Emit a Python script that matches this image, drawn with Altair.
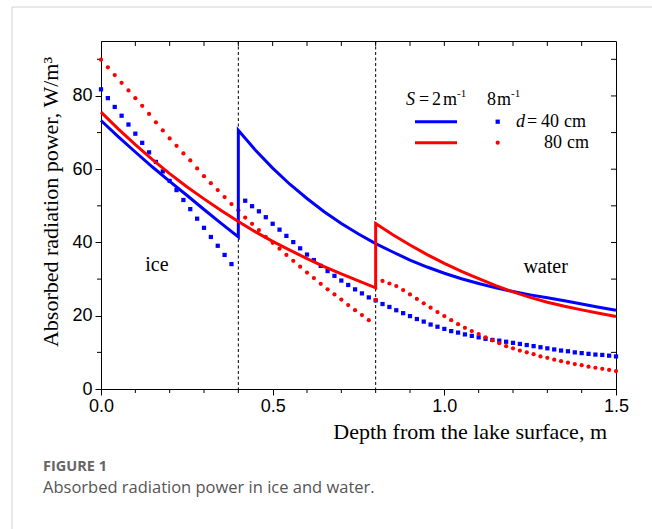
import altair as alt
import pandas as pd

# ---------------------------------------------------------------------------
# Absorbed radiation power (W/m^3) versus depth (m)
# Solid curves: S = 2 1/m, sampled every 0.05 m
# Dotted curves: S = 8 1/m, sampled every 0.02 m
# Blue: ice thickness d = 40 cm, red: d = 80 cm
# ---------------------------------------------------------------------------

# S = 2 1/m, d = 40 cm
blue_solid_ice = [73.3, 68.9, 64.7, 60.6, 56.7, 52.9, 49.0, 45.2, 41.5]            # 0.00 .. 0.40
blue_solid_water = [70.6, 65.2, 60.3, 55.9, 52.0, 48.4, 45.2, 42.3, 39.7, 37.4, 35.2, 33.3,
                    31.6, 30.1, 28.8, 27.6, 26.6, 25.7, 24.9, 24.1, 23.2, 22.3, 21.5]  # 0.40 .. 1.50

# S = 2 1/m, d = 80 cm
red_solid_ice = [75.6, 71.0, 66.7, 62.6, 58.8, 55.2, 51.9, 48.7, 45.7, 42.9, 40.3, 37.9,
                 35.6, 33.4, 31.4, 29.5, 27.6]                                       # 0.00 .. 0.80
red_solid_water = [45.2, 42.1, 39.3, 36.7, 34.3, 32.1, 30.1, 28.2, 26.5, 25.0, 23.7, 22.6,
                   21.6, 20.7, 19.8]                                                 # 0.80 .. 1.50

# S = 8 1/m, d = 40 cm
blue_dot_ice = [81.8, 79.4, 77.0, 74.6, 72.2, 69.7, 67.2, 64.6, 62.0, 59.4, 56.8, 54.3,
                51.6, 49.1, 46.5, 44.0, 41.5, 39.1, 36.6, 34.1]                     # 0.00 .. 0.38
blue_dot_water = [51.4, 49.9, 48.5, 46.9, 45.1, 43.5, 41.8, 40.1, 38.4, 36.7, 35.2, 33.6,
                  32.2, 30.9, 29.6, 28.4, 27.2, 26.1, 25.0, 24.2, 23.2, 22.4, 21.5, 20.7,
                  19.9, 19.1, 18.4, 17.6, 17.0, 16.4, 15.8, 15.4, 14.9, 14.5, 14.1, 13.7,
                  13.4, 13.2, 12.9, 12.6, 12.3, 12.0, 11.7, 11.4, 11.1, 10.8, 10.5, 10.3,
                  10.0, 9.8, 9.6, 9.4, 9.3, 9.1, 8.9]                               # 0.42 .. 1.50

# S = 8 1/m, d = 80 cm
red_dot_ice = [89.9, 87.8, 85.7, 83.6, 81.5, 79.4, 77.3, 75.1, 72.8, 70.6, 68.4, 66.4,
               64.3, 62.4, 60.2, 58.1, 56.2, 54.3, 52.4, 50.5, 48.8, 46.8, 45.1, 43.4,
               41.5, 39.9, 38.3, 36.6, 35.0, 33.4, 31.8, 30.3, 28.7, 27.2, 25.8, 24.4,
               22.9, 21.5, 20.2, 18.8]                                              # 0.00 .. 0.78
red_dot_water = [24.3, 29.5, 28.8, 28.1, 27.0, 25.8, 24.6, 23.4, 22.2, 21.0, 19.9, 18.8,
                 17.7, 16.7, 15.8, 15.0, 14.1, 13.3, 12.5, 11.7, 11.1, 10.5, 10.0, 9.5,
                 8.9, 8.5, 8.0, 7.6, 7.2, 6.8, 6.5, 6.1, 5.8, 5.5, 5.2, 4.9]         # 0.80 .. 1.50

interfaces = [0.4, 0.8]
x_major = [0.0, 0.5, 1.0, 1.5]
x_minor = [0.1, 0.2, 0.3, 0.4, 0.6, 0.7, 0.8, 0.9, 1.1, 1.2, 1.3, 1.4]
x_top = [0.1, 0.2, 0.3, 0.4, 0.5, 0.6, 0.7, 0.8, 0.9, 1.0, 1.1, 1.2, 1.3, 1.4]
y_major = [0, 20, 40, 60, 80]
y_minor = [10, 30, 50, 70, 90]
y_right = [10, 20, 30, 40, 50, 60, 70, 80, 90]

regions = pd.DataFrame({"label": ["ice", "water"], "depth": [0.163, 1.295], "power": [32.3, 31.6]})


def grid(start, step, n):
    return [round(start + i * step, 2) for i in range(n)]


def series(parts):
    depth, power = [], []
    for start, step, values in parts:
        depth += grid(start, step, len(values))
        power += values
    return pd.DataFrame({"depth": depth, "power": power, "idx": range(len(depth))})


blue_solid = series([(0.0, 0.05, blue_solid_ice), (0.4, 0.05, blue_solid_water)])
red_solid = series([(0.0, 0.05, red_solid_ice), (0.8, 0.05, red_solid_water)])
blue_dots = series([(0.0, 0.02, blue_dot_ice), (0.42, 0.02, blue_dot_water)])
red_dots = series([(0.0, 0.02, red_dot_ice), (0.8, 0.02, red_dot_water)])

W, H = 515, 348
BLUE, RED = "#0000ff", "#ff0000"
SERIF = "Liberation Serif"
SANS = "Liberation Sans"

xs = alt.Scale(domain=[0, 1.5], nice=False, zero=False)
ys = alt.Scale(domain=[0, 95], nice=False, zero=False)
x_axis = alt.Axis(values=x_major, format=".1f", title=None, grid=False, tickSize=6,
                  labelFont=SANS, labelFontSize=18, labelColor="black", labelPadding=2,
                  tickColor="black", domainColor="black", labelFlush=False)
y_axis = alt.Axis(values=y_major, format="d", title=None, grid=False, tickSize=6,
                  labelFont=SANS, labelFontSize=18, labelColor="black", labelPadding=3,
                  tickColor="black", domainColor="black")
X = alt.X("depth:Q", scale=xs, axis=x_axis)
Y = alt.Y("power:Q", scale=ys, axis=y_axis)

layers = []

# interface between ice and water
layers.append(
    alt.Chart(pd.DataFrame({"depth": interfaces})).mark_rule(
        color="black", strokeWidth=1, strokeDash=[3, 2.5]).encode(x=X)
)

# minor and mirrored tick marks
layers.append(alt.Chart(pd.DataFrame({"depth": x_minor})).mark_rule(color="black").encode(
    x=X, y=alt.value(H), y2=alt.value(H + 4)))
layers.append(alt.Chart(pd.DataFrame({"depth": x_top})).mark_rule(color="black").encode(
    x=X, y=alt.value(0), y2=alt.value(5)))
layers.append(alt.Chart(pd.DataFrame({"power": y_minor})).mark_rule(color="black").encode(
    y=Y, x=alt.value(0), x2=alt.value(-4)))
layers.append(alt.Chart(pd.DataFrame({"power": y_right})).mark_rule(color="black").encode(
    y=Y, x=alt.value(W), x2=alt.value(W - 5)))

# S = 8 1/m as markers
layers.append(alt.Chart(blue_dots).mark_point(shape="square", filled=True, size=18, color=BLUE,
                                              opacity=1).encode(x=X, y=Y))
layers.append(alt.Chart(red_dots).mark_point(shape="circle", filled=True, size=18, color=RED,
                                             opacity=1).encode(x=X, y=Y))

# S = 2 1/m as solid lines
layers.append(alt.Chart(blue_solid).mark_line(color=BLUE, strokeWidth=3).encode(
    x=X, y=Y, order="idx:Q"))
layers.append(alt.Chart(red_solid).mark_line(color=RED, strokeWidth=3).encode(
    x=X, y=Y, order="idx:Q"))

# region names
layers.append(alt.Chart(regions).mark_text(font=SERIF, fontSize=20, color="black",
                                           align="center", baseline="alphabetic").encode(
    x=X, y=Y, text="label:N"))


def ptext(text, x, y, size=18, font=SERIF, style="normal", weight="normal",
          align="left", color="black", angle=0):
    return alt.Chart(pd.DataFrame({"t": [text]})).mark_text(
        font=font, fontSize=size, fontStyle=style, fontWeight=weight, align=align,
        baseline="alphabetic", color=color, angle=angle,
    ).encode(x=alt.value(x), y=alt.value(y), text="t:N")


# axis titles
layers.append(ptext("Depth from the lake surface, m", 506, 398, size=22, align="right"))
layers.append(ptext("Absorbed radiation power, W/m\u00b3", -43, 161, size=22, align="center",
                    angle=270))

# legend header: S = 2 m-1   8 m-1
layers += [
    ptext("S", 305, 64, style="italic"),
    ptext("=", 318, 64),
    ptext("2", 331, 64),
    ptext("m", 342, 64),
    ptext("-1", 356, 56, size=11),
    ptext("8", 386, 64),
    ptext("m", 396, 64),
    ptext("-1", 410, 56, size=11),
    ptext("d", 415, 86, style="italic"),
    ptext("=", 426, 86),
    ptext("40", 440, 86),
    ptext("cm", 463, 86),
    ptext("80", 443, 107),
    ptext("cm", 466, 107),
]
legend_row = pd.DataFrame({"k": [0]})
layers += [
    alt.Chart(legend_row).mark_rule(color=BLUE, strokeWidth=3).encode(
        x=alt.value(314), x2=alt.value(356), y=alt.value(80.7)),
    alt.Chart(legend_row).mark_rule(color=RED, strokeWidth=3).encode(
        x=alt.value(314), x2=alt.value(356), y=alt.value(101.7)),
    alt.Chart(legend_row).mark_point(shape="square", filled=True, size=18, color=BLUE,
                                     opacity=1).encode(x=alt.value(396.7), y=alt.value(80.7)),
    alt.Chart(legend_row).mark_point(shape="circle", filled=True, size=18, color=RED,
                                     opacity=1).encode(x=alt.value(396.7), y=alt.value(101.7)),
]

# page frame and caption
layers += [
    alt.Chart(legend_row).mark_rule(color="#d0d0d0", strokeWidth=1).encode(
        x=alt.value(-89), y=alt.value(-34), y2=alt.value(488)),
    alt.Chart(legend_row).mark_rule(color="#d0d0d0", strokeWidth=1).encode(
        x=alt.value(-89), x2=alt.value(551), y=alt.value(-34)),
    ptext("FIGURE 1", -58, 430, size=14.5, font="Open Sans", weight="bold", color="#666666"),
    ptext("Absorbed radiation power in ice and water.", -58, 452, size=16.5,
          font="Open Sans", color="#555555"),
]

chart = alt.layer(*layers).properties(
    width=W,
    height=H,
    padding={"left": 101, "top": 41, "right": 36, "bottom": 140},
    autosize=alt.AutoSizeParams(type="none"),
    background="white",
).configure_view(stroke="black", strokeWidth=1)

chart.save("out.html", embed_options={"renderer": "svg", "actions": False})
